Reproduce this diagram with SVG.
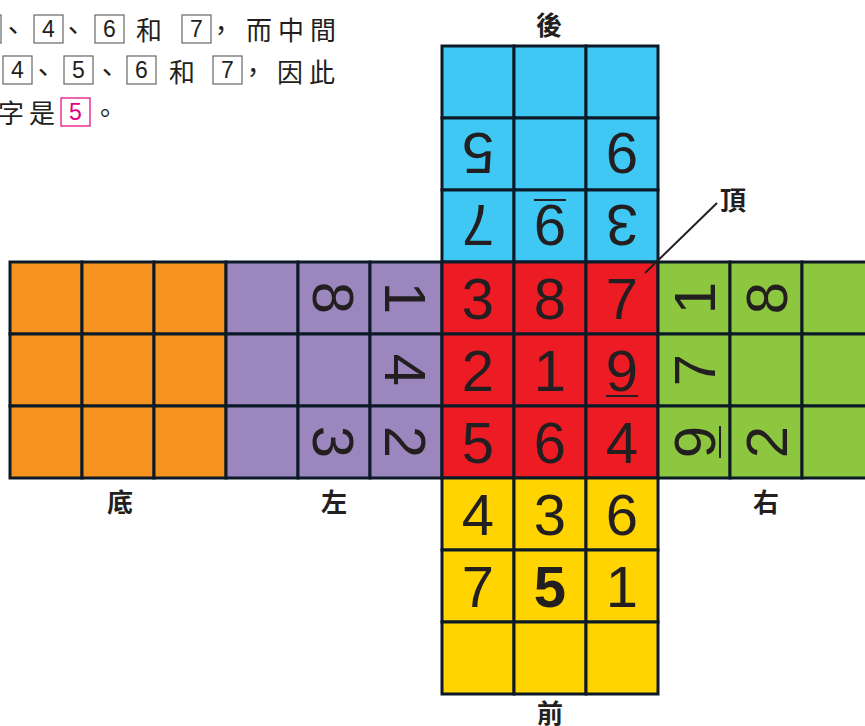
<svg xmlns="http://www.w3.org/2000/svg" width="865" height="726" viewBox="0 0 865 726">
<defs>
<style>
.cell{stroke:#0c1a28;stroke-width:3}
.blue{fill:#40c8f4}.red{fill:#ed1c24}.yellow{fill:#ffd400}.purple{fill:#9b86bd}.orange{fill:#f6921e}.green{fill:#8dc63f}
.d{font-family:"Liberation Sans",Arial,sans-serif;font-size:58px;fill:#231f20;text-anchor:middle}
.b{font-weight:bold}
.ul{stroke:#231f20;stroke-width:2}
.lab{font-family:"Noto Sans CJK TC","Noto Sans CJK SC",sans-serif;font-size:26px;font-weight:bold;fill:#231f20;text-anchor:middle}
.t{font-family:"Noto Sans CJK TC","Noto Sans CJK SC",sans-serif;font-size:26px;fill:#231f20}
.box{fill:none;stroke:#666;stroke-width:1.2}
.pbox{fill:none;stroke:#e4007f;stroke-width:1.2}
.bd{font-family:"Liberation Sans",Arial,sans-serif;font-size:23px;fill:#231f20;text-anchor:middle}
.pd{fill:#e4007f}
</style>
</defs>
<rect width="865" height="726" fill="#fff"/>

<g id="text">
<rect class="box" x="-28" y="15" width="29" height="28"/>
<text class="t" x="0" y="40">、</text>
<rect class="box" x="34" y="15" width="29" height="28"/><text class="bd" x="48.5" y="37">4</text>
<text class="t" x="60" y="40">、</text>
<rect class="box" x="95" y="15" width="29" height="28"/><text class="bd" x="109.5" y="37">6</text>
<text class="t" x="136" y="40">和</text>
<rect class="box" x="182" y="15" width="29" height="28"/><text class="bd" x="196.5" y="37">7</text>
<text class="t" x="208" y="40">，</text>
<text class="t" x="246" y="40" letter-spacing="6">而中間</text>

<rect class="box" x="3" y="56" width="29" height="28"/><text class="bd" x="17.5" y="78">4</text>
<text class="t" x="30" y="82">、</text>
<rect class="box" x="64" y="56" width="29" height="28"/><text class="bd" x="78.5" y="78">5</text>
<text class="t" x="94" y="82">、</text>
<rect class="box" x="127" y="56" width="29" height="28"/><text class="bd" x="141.5" y="78">6</text>
<text class="t" x="169" y="82">和</text>
<rect class="box" x="213" y="56" width="29" height="28"/><text class="bd" x="227.5" y="78">7</text>
<text class="t" x="240" y="82">，</text>
<text class="t" x="277" y="82" letter-spacing="6">因此</text>

<text class="t" x="-2" y="123" letter-spacing="5">字是</text>
<rect class="pbox" x="61" y="98" width="29" height="28"/><text class="bd pd" x="75.5" y="120">5</text>
<text class="t" x="92" y="123">。</text>
</g>

<g id="back">
<rect class="cell blue" x="442" y="46" width="72" height="72"/><rect class="cell blue" x="514" y="46" width="72" height="72"/><rect class="cell blue" x="586" y="46" width="72" height="72"/>
<rect class="cell blue" x="442" y="118" width="72" height="72"/><rect class="cell blue" x="514" y="118" width="72" height="72"/><rect class="cell blue" x="586" y="118" width="72" height="72"/>
<rect class="cell blue" x="442" y="190" width="72" height="72"/><rect class="cell blue" x="514" y="190" width="72" height="72"/><rect class="cell blue" x="586" y="190" width="72" height="72"/>
<text class="d" x="478" y="175" transform="rotate(180 478 154)">5</text>
<text class="d" x="622" y="175" transform="rotate(180 622 154)">9</text>
<text class="d" x="478" y="247" transform="rotate(180 478 226)">7</text>
<g transform="rotate(180 550 226)"><text class="d" x="550" y="247">9</text><line class="ul" x1="534" y1="252" x2="566" y2="252"/></g>
<text class="d" x="622" y="247" transform="rotate(180 622 226)">3</text>
<text class="lab" x="549" y="35">後</text>
</g>

<g id="bottom">
<rect class="cell orange" x="10" y="262" width="72" height="72"/><rect class="cell orange" x="82" y="262" width="72" height="72"/><rect class="cell orange" x="154" y="262" width="72" height="72"/>
<rect class="cell orange" x="10" y="334" width="72" height="72"/><rect class="cell orange" x="82" y="334" width="72" height="72"/><rect class="cell orange" x="154" y="334" width="72" height="72"/>
<rect class="cell orange" x="10" y="406" width="72" height="72"/><rect class="cell orange" x="82" y="406" width="72" height="72"/><rect class="cell orange" x="154" y="406" width="72" height="72"/>
<text class="lab" x="120" y="512">底</text>
</g>

<g id="left">
<rect class="cell purple" x="226" y="262" width="72" height="72"/><rect class="cell purple" x="298" y="262" width="72" height="72"/><rect class="cell purple" x="370" y="262" width="72" height="72"/>
<rect class="cell purple" x="226" y="334" width="72" height="72"/><rect class="cell purple" x="298" y="334" width="72" height="72"/><rect class="cell purple" x="370" y="334" width="72" height="72"/>
<rect class="cell purple" x="226" y="406" width="72" height="72"/><rect class="cell purple" x="298" y="406" width="72" height="72"/><rect class="cell purple" x="370" y="406" width="72" height="72"/>
<text class="d" x="334" y="319" transform="rotate(90 334 298)">8</text>
<text class="d" x="406" y="319" transform="rotate(90 406 298)">1</text>
<text class="d" x="406" y="391" transform="rotate(90 406 370)">4</text>
<text class="d" x="334" y="463" transform="rotate(90 334 442)">3</text>
<text class="d" x="406" y="463" transform="rotate(90 406 442)">2</text>
<text class="lab" x="334" y="512">左</text>
</g>

<g id="top">
<rect class="cell red" x="442" y="262" width="72" height="72"/><rect class="cell red" x="514" y="262" width="72" height="72"/><rect class="cell red" x="586" y="262" width="72" height="72"/>
<rect class="cell red" x="442" y="334" width="72" height="72"/><rect class="cell red" x="514" y="334" width="72" height="72"/><rect class="cell red" x="586" y="334" width="72" height="72"/>
<rect class="cell red" x="442" y="406" width="72" height="72"/><rect class="cell red" x="514" y="406" width="72" height="72"/><rect class="cell red" x="586" y="406" width="72" height="72"/>
<text class="d" x="478" y="319">3</text><text class="d" x="550" y="319">8</text><text class="d" x="622" y="319">7</text>
<text class="d" x="478" y="391">2</text><text class="d" x="550" y="391">1</text>
<g><text class="d" x="622" y="391">9</text><line class="ul" x1="606" y1="396" x2="638" y2="396"/></g>
<text class="d" x="478" y="463">5</text><text class="d" x="550" y="463">6</text><text class="d" x="622" y="463">4</text>
<text class="lab" x="733" y="210">頂</text>
</g>

<g id="right">
<rect class="cell green" x="658" y="262" width="72" height="72"/><rect class="cell green" x="730" y="262" width="72" height="72"/><rect class="cell green" x="802" y="262" width="72" height="72"/>
<rect class="cell green" x="658" y="334" width="72" height="72"/><rect class="cell green" x="730" y="334" width="72" height="72"/><rect class="cell green" x="802" y="334" width="72" height="72"/>
<rect class="cell green" x="658" y="406" width="72" height="72"/><rect class="cell green" x="730" y="406" width="72" height="72"/><rect class="cell green" x="802" y="406" width="72" height="72"/>
<text class="d" x="694" y="319" transform="rotate(-90 694 298)">1</text>
<text class="d" x="766" y="319" transform="rotate(-90 766 298)">8</text>
<text class="d" x="694" y="391" transform="rotate(-90 694 370)">7</text>
<g transform="rotate(-90 694 442)"><text class="d" x="694" y="463">9</text><line class="ul" x1="678" y1="468" x2="710" y2="468"/></g>
<text class="d" x="766" y="463" transform="rotate(-90 766 442)">2</text>
<text class="lab" x="766" y="512">右</text>
</g>

<g id="front">
<rect class="cell yellow" x="442" y="478" width="72" height="72"/><rect class="cell yellow" x="514" y="478" width="72" height="72"/><rect class="cell yellow" x="586" y="478" width="72" height="72"/>
<rect class="cell yellow" x="442" y="550" width="72" height="72"/><rect class="cell yellow" x="514" y="550" width="72" height="72"/><rect class="cell yellow" x="586" y="550" width="72" height="72"/>
<rect class="cell yellow" x="442" y="622" width="72" height="72"/><rect class="cell yellow" x="514" y="622" width="72" height="72"/><rect class="cell yellow" x="586" y="622" width="72" height="72"/>
<text class="d" x="478" y="535">4</text><text class="d" x="550" y="535">3</text><text class="d" x="622" y="535">6</text>
<text class="d" x="478" y="607">7</text><text class="d b" x="550" y="607">5</text><text class="d" x="622" y="607">1</text>
<text class="lab" x="550" y="723">前</text>
</g>

<g id="connectors">
<line x1="717" y1="203" x2="645" y2="273" stroke="#231f20" stroke-width="2"/>
</g>
</svg>
